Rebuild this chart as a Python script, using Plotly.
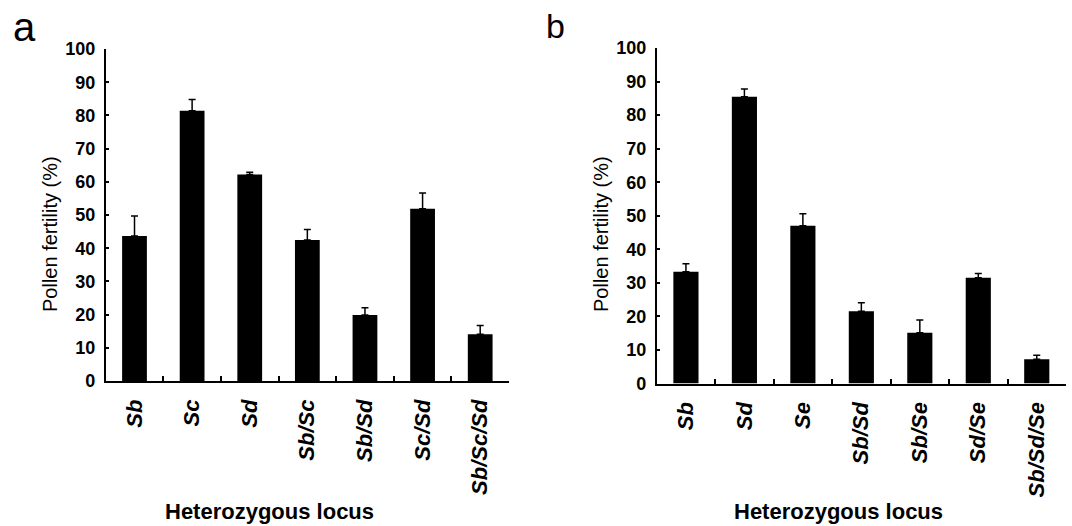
import plotly.graph_objects as go

# ---- data ----
cats_a = ["Sb", "Sc", "Sd", "Sb/Sc", "Sb/Sd", "Sc/Sd", "Sb/Sc/Sd"]
vals_a = [43.7, 81.4, 62.2, 42.5, 19.9, 51.9, 14.1]
errs_a = [6.0, 3.4, 0.7, 3.1, 2.2, 4.7, 2.6]

cats_b = ["Sb", "Sd", "Se", "Sb/Sd", "Sb/Se", "Sd/Se", "Sb/Sd/Se"]
vals_b = [33.3, 85.5, 47.0, 21.5, 15.1, 31.5, 7.2]
errs_b = [2.4, 2.3, 3.6, 2.6, 3.8, 1.3, 1.2]

y_ticks = list(range(0, 101, 10))
y_title = "Pollen fertility (%)"
x_title = "Heterozygous locus"
panel_labels = ["a", "b"]

W, H = 1072, 526
FONT = "Liberation Sans, Arial, sans-serif"

def px_x(p):
    return min(1.0, max(0.0, p / W))

def px_y(p):
    return min(1.0, max(0.0, 1 - p / H))

def bar_trace(cats, vals, errs, xa, ya):
    return go.Bar(
        x=cats, y=vals, xaxis=xa, yaxis=ya,
        width=0.43,
        marker=dict(color="black", line=dict(width=0)),
        error_y=dict(type="data", symmetric=False, array=errs,
                     arrayminus=[0] * len(errs), color="black",
                     thickness=1.5, width=3.5),
        showlegend=False,
    )

fig = go.Figure()
fig.add_trace(bar_trace(cats_a, vals_a, errs_a, "x", "y"))
fig.add_trace(bar_trace(cats_b, vals_b, errs_b, "x2", "y2"))

xcommon = dict(
    type="category", range=[-0.5, 6.5], showline=True, linecolor="black",
    linewidth=1.5, ticks="inside", tickson="boundaries", ticklen=5,
    tickwidth=1.5, tickcolor="black", tickangle=-90, showgrid=False,
    zeroline=False, ticklabelstandoff=8, automargin=False,
    tickfont=dict(family=FONT, size=22, color="black", weight="bold", style="italic"),
)
ycommon = dict(
    range=[0, 100], tickvals=y_ticks, showline=True, linecolor="black",
    linewidth=1.5, ticks="inside", ticklen=4, tickwidth=1.5, tickcolor="black",
    showgrid=False, zeroline=False, ticklabelstandoff=5, automargin=False,
    tickfont=dict(family=FONT, size=18, color="black", weight="bold"),
)

fig.update_layout(
    width=W, height=H, autosize=False,
    margin=dict(l=0, r=0, t=0, b=0),
    paper_bgcolor="white", plot_bgcolor="white",
    xaxis=dict(domain=[px_x(105.7), px_x(509)], anchor="y", **xcommon),
    yaxis=dict(domain=[px_y(381), px_y(49)], anchor="x", **ycommon),
    xaxis2=dict(domain=[px_x(656.7), px_x(1066)], anchor="y2", **xcommon),
    yaxis2=dict(domain=[px_y(383.5), px_y(48)], anchor="x2", **ycommon),
)

ann = []
# panel letters
ann.append(dict(text=panel_labels[0], x=px_x(24), y=px_y(27), xref="paper", yref="paper",
                showarrow=False, xanchor="center", yanchor="middle",
                font=dict(family=FONT, size=40, color="black")))
ann.append(dict(text=panel_labels[1], x=px_x(555), y=px_y(26), xref="paper", yref="paper",
                showarrow=False, xanchor="center", yanchor="middle",
                font=dict(family=FONT, size=34, color="black")))
# y titles
for xc in (50, 601):
    ann.append(dict(text=y_title, x=px_x(xc), y=px_y(234), xref="paper", yref="paper",
                    showarrow=False, xanchor="center", yanchor="middle", textangle=-90,
                    font=dict(family=FONT, size=20, color="black")))
# x titles
for xc in (269, 838):
    ann.append(dict(text=x_title, x=px_x(xc), y=px_y(511), xref="paper", yref="paper",
                    showarrow=False, xanchor="center", yanchor="middle",
                    font=dict(family=FONT, size=22, color="black", weight="bold")))
fig.update_layout(annotations=ann)

# remove the browser's default 8px body margin so the figure fills the window
fig.write_html("out.html",
               config={"displayModeBar": False},
               post_script="document.body.style.margin='0px';document.body.style.overflow='hidden';")
